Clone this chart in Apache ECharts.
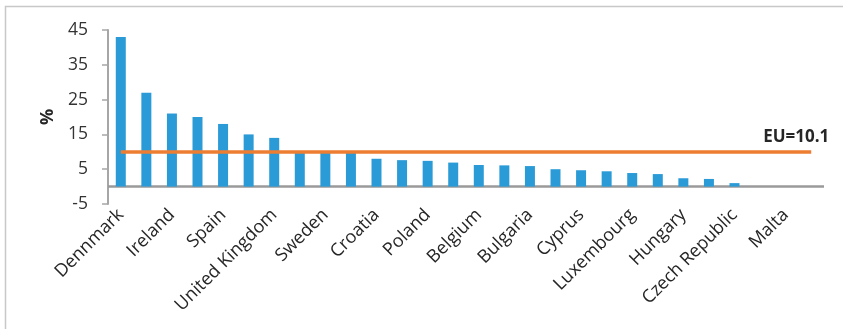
<!DOCTYPE html>
<html>
<head>
<meta charset="utf-8">
<script src="https://cdn.jsdelivr.net/npm/echarts@6/dist/echarts.min.js"></script>
<style>html,body{margin:0;padding:0;background:#fff}#c{width:843px;height:329px}</style>
</head>
<body>
<div id="c"></div>
<script>
// Categories (only every other name is shown on the axis)
var categories = ['Dennmark','Netherlands','Ireland','Finland','Spain','Germany','United Kingdom','France','Sweden','Austria','Croatia','Slovenia','Poland','Estonia','Belgium','Italy','Bulgaria','Portugal','Cyprus','Latvia','Luxembourg','Lithuania','Hungary','Slovakia','Czech Republic','Greece','Malta','Romania'];
var values = [43, 27, 21, 20, 18, 15, 14, 9.9, 9.8, 9.7, 8, 7.6, 7.4, 6.9, 6.2, 6.1, 5.9, 5, 4.7, 4.4, 3.9, 3.6, 2.4, 2.2, 1, 0, 0, 0];
var euValue = 10.1;
var euLabel = 'EU=10.1';
var yTicks = [-5, 5, 15, 25, 35, 45];
var yName = '%';

var FONT = 'Open Sans';
var chart = echarts.init(document.getElementById('c'), null, {renderer: 'canvas'});
chart.setOption({
  animation: false,
  backgroundColor: '#fff',
  graphic: [{
    type: 'rect', silent: true, z: -1,
    shape: {x: 5.5, y: 6.5, width: 900, height: 400},
    style: {fill: 'none', stroke: '#C8C8C8', lineWidth: 1.5}
  }],
  grid: {left: 108, right: 19, top: 30, bottom: 125, outerBoundsMode: 'none', containLabel: false},
  xAxis: {
    type: 'category',
    data: categories,
    axisLine: {show: false, onZero: false},
    axisTick: {show: false},
    axisLabel: {interval: 1, rotate: 45, margin: 8, fontFamily: FONT, fontSize: 18, color: '#262626'}
  },
  yAxis: {
    type: 'value', min: -5, max: 45, interval: 10,
    name: yName, nameLocation: 'middle', nameRotate: 90, nameGap: 51,
    nameTextStyle: {fontFamily: FONT, fontSize: 18, fontWeight: 'bold', color: '#262626'},
    axisLine: {show: true, lineStyle: {color: '#A6A6A6', width: 2}},
    axisTick: {show: true, length: 6, lineStyle: {color: '#A6A6A6', width: 1.5}, customValues: yTicks},
    axisLabel: {margin: 20, fontFamily: FONT, fontSize: 17.5, color: '#333', customValues: yTicks},
    splitLine: {show: false}
  },
  series: [{
    type: 'bar',
    data: values,
    barWidth: 10,
    itemStyle: {color: '#2A9BD7'},
    markLine: {
      silent: true, symbol: 'none', z: 1,
      label: {show: false},
      lineStyle: {color: '#9A9A9A', width: 2.5, type: 'solid'},
      data: [{yAxis: 0}]
    }
  }, {
    type: 'line',
    data: [],
    markLine: {
      silent: true, symbol: 'none', z: 5,
      lineStyle: {color: '#ED7D31', width: 3.5, type: 'solid'},
      label: {show: false},
      data: [[{coord: [categories[0], euValue]}, {coord: [categories[categories.length - 1], euValue]}]]
    },
    markPoint: {
      symbol: 'circle', symbolSize: 0,
      label: {show: true, position: 'inside', offset: [-15, -14], formatter: euLabel,
        fontFamily: FONT, fontSize: 17, fontWeight: 'bold', color: '#262626'},
      data: [{coord: [categories[categories.length - 1], euValue]}]
    }
  }]
});
</script>
</body>
</html>
